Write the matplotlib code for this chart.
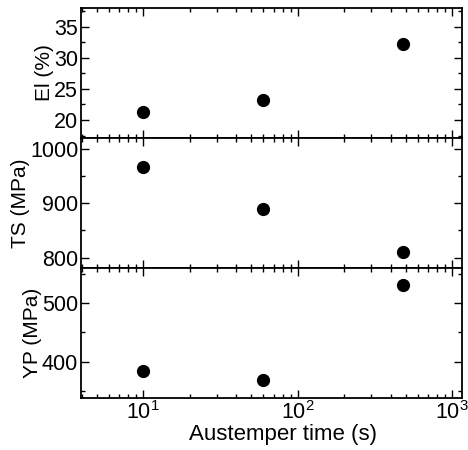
import numpy as np
import matplotlib.pyplot as plt
from matplotlib.ticker import MultipleLocator, LogLocator, NullFormatter

plt.rcParams['font.family'] = ['Liberation Sans', 'DejaVu Sans']
plt.rcParams['mathtext.default'] = 'regular'

# data
time_s = [10, 60, 480]
el_pct = [21.3, 23.2, 32.2]
ts_mpa = [966, 889, 811]
yp_mpa = [384, 369, 530]

panels = [
    ("El (%)", el_pct, (17.1, 38.0), 5, 2.5),
    ("TS (MPa)", ts_mpa, (781, 1020), 100, 50),
    ("YP (MPa)", yp_mpa, (338, 559.5), 100, 50),
]

W, H = 468, 450
fig = plt.figure(figsize=(W / 100, H / 100), dpi=100)

left, right = 81, 462
tops = [8, 138, 268]
height = 130

for i, (label, vals, ylim, major, minor) in enumerate(panels):
    ax = fig.add_axes([left / W, 1 - (tops[i] + height) / H,
                       (right - left) / W, height / H])
    ax.plot(time_s, vals, 'o', color='black', markersize=8.5)
    ax.set_xscale('log')
    ax.set_xlim(3.95, 1160)
    ax.set_ylim(*ylim)
    ax.yaxis.set_major_locator(MultipleLocator(major))
    ax.yaxis.set_minor_locator(MultipleLocator(minor))
    ax.xaxis.set_major_locator(LogLocator(base=10))
    ax.xaxis.set_minor_locator(LogLocator(base=10, subs=np.arange(2, 10)))
    ax.xaxis.set_minor_formatter(NullFormatter())
    ax.tick_params(which='both', direction='in', top=True, right=True,
                   labelsize=15.5, width=1, pad=2)
    ax.tick_params(which='major', length=6)
    ax.tick_params(which='minor', length=3)
    ax.set_ylabel(label, fontsize=15, labelpad=0)
    for s in ax.spines.values():
        s.set_linewidth(1.3)
    if i < 2:
        ax.tick_params(labelbottom=False)
    else:
        ax.set_xlabel("Austemper time (s)", fontsize=16, labelpad=0)
        ax.xaxis.label.set_x(0.53)

fig.align_ylabels(fig.axes)
fig.savefig("out.png", dpi=100)
